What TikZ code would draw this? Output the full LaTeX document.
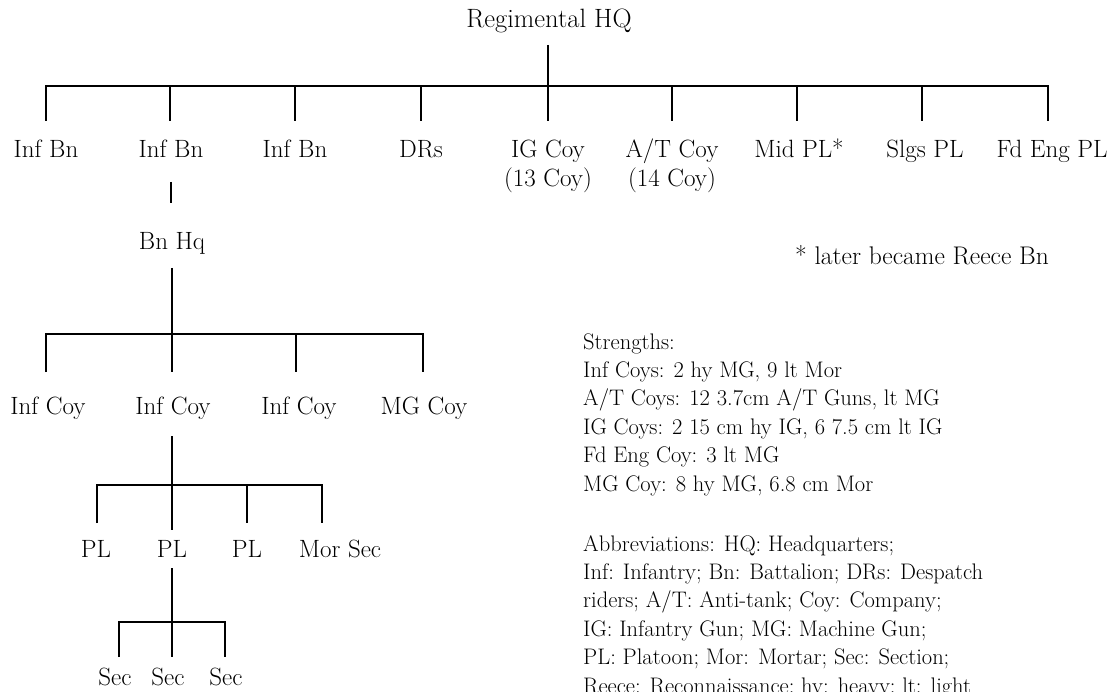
\documentclass[tikz,border=0pt]{standalone}
\usepackage{fontspec}
\usetikzlibrary{calc}
\begin{document}
\begin{tikzpicture}[x=1pt,y=-1pt,
  conn/.style={line width=2.4pt, line join=miter},
  lbl/.style={anchor=base, inner sep=0pt, font=\fontsize{25}{29}\selectfont},
  head/.style={lbl, font=\fontsize{26.5}{29}\selectfont},
  foot/.style={anchor=base west, inner sep=0pt, font=\fontsize{25.5}{29}\selectfont},
  note/.style={anchor=base west, inner sep=0pt, font=\fontsize{22.5}{28.4}\selectfont}]
\useasboundingbox (0,0) rectangle (1110,692);
\fill[white] (0,0) rectangle (1110,692);

% ---------- Level 1 ----------
\node[head] (hq) at (549,28) {Regimental HQ};
\node[lbl] (bn1) at (46,158) {Inf Bn};
\node[lbl] (bn2) at (171,158) {Inf Bn};
\node[lbl] (bn3) at (295,158) {Inf Bn};
\node[lbl] (drs) at (421,158) {DRs};
\node[lbl] (ig) at (548,158) {\begin{tabular}[t]{@{}c@{}}IG Coy\\(13 Coy)\end{tabular}};
\node[lbl] (at) at (672,158) {\begin{tabular}[t]{@{}c@{}}A/T Coy\\(14 Coy)\end{tabular}};
\node[lbl] (mid) at (799,158) {Mid PL*};
\node[lbl] (slgs) at (925,158) {Slgs PL};
\node[lbl] (fd) at (1052,158) {Fd Eng PL};

\coordinate (hqT) at (548,45);
\coordinate (a1) at (46,86);  \coordinate (a2) at (170,86);
\coordinate (a3) at (295,86); \coordinate (a4) at (421,86);
\coordinate (a5) at (548,86); \coordinate (a6) at (672,86);
\coordinate (a7) at (797,86); \coordinate (a8) at (922,86);
\coordinate (a9) at (1048,86);
\draw[conn] (hqT) -- ($(a5)+(0,35)$);
\draw[conn] ($(a1)+(0,35)$) -- (a1) -- (a9) -- ++(0,35);
\foreach \c in {a2,a3,a4,a6,a7,a8} \draw[conn] (\c) -- ++(0,35);

% ---------- Level 2 ----------
\node[lbl] (bhq) at (172,250) {Bn Hq};
\coordinate (s1T) at (171,182); \coordinate (s1B) at (171,203);
\draw[conn] (s1T) -- (s1B);

\node[lbl] (c1) at (48,414) {Inf Coy};
\node[lbl] (c2) at (173,414) {Inf Coy};
\node[lbl] (c3) at (299,414) {Inf Coy};
\node[lbl] (c4) at (424,414) {MG Coy};
\coordinate (bhqT) at (172,268);
\coordinate (b1) at (46,334); \coordinate (b2) at (172,334);
\coordinate (b3) at (296,334); \coordinate (b4) at (423,334);
\draw[conn] (bhqT) -- ($(b2)+(0,38)$);
\draw[conn] ($(b1)+(0,38)$) -- (b1) -- (b4) -- ++(0,38);
\draw[conn] (b3) -- ++(0,38);

% ---------- Level 3 ----------
\node[lbl] (p1) at (96,557) {PL};
\node[lbl] (p2) at (172,557) {PL};
\node[lbl] (p3) at (247,557) {PL};
\node[lbl] (p4) at (340,557) {Mor Sec};
\coordinate (c2T) at (172,436);
\coordinate (d1) at (97,485); \coordinate (d2) at (172,485);
\coordinate (d3) at (247,485); \coordinate (d4) at (322,485);
\draw[conn] (c2T) -- ($(d2)+(0,45)$);
\draw[conn] ($(d1)+(0,38)$) -- (d1) -- (d4) -- ++(0,38);
\draw[conn] (d3) -- ++(0,38);

% ---------- Level 4 ----------
\node[lbl] (e1) at (115,685) {Sec};
\node[lbl] (e2) at (168,685) {Sec};
\node[lbl] (e3) at (226,685) {Sec};
\coordinate (p2T) at (172,568);
\coordinate (f1) at (119,622); \coordinate (f2) at (172,622);
\coordinate (f3) at (225,622);
\draw[conn] (p2T) -- ($(f2)+(0,35)$);
\draw[conn] ($(f1)+(0,35)$) -- (f1) -- (f3) -- ++(0,35);

% ---------- Notes ----------
\node[foot] (fn) at (795,265) {* later became Reece Bn};
\node[note] (str) at (583,349) {\begin{tabular}[t]{@{}l@{}}
Strengths:\\
Inf Coys: 2 hy MG, 9 lt Mor\\
A/T Coys: 12 3.7cm A/T Guns, lt MG\\
IG Coys: 2 15 cm hy IG, 6 7.5 cm lt IG\\
Fd Eng Coy: 3 lt MG\\
MG Coy: 8 hy MG, 6.8 cm Mor
\end{tabular}};
\node[note] (abbr) at (583,551) {\begin{tabular}[t]{@{}l@{}}
Abbreviations: HQ: Headquarters;\\
Inf: Infantry; Bn: Battalion; DRs: Despatch\\
riders; A/T: Anti-tank; Coy: Company;\\
IG: Infantry Gun; MG: Machine Gun;\\
PL: Platoon; Mor: Mortar; Sec: Section;\\
Reece: Reconnaissance; hy: heavy; lt: light
\end{tabular}};
\end{tikzpicture}
\end{document}
